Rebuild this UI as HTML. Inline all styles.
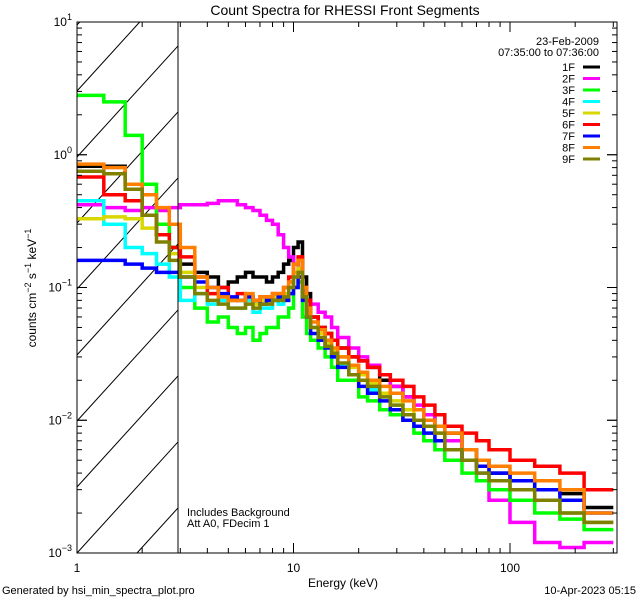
<!DOCTYPE html>
<html><head><meta charset="utf-8"><style>
html,body{margin:0;padding:0;background:#fff;overflow:hidden;width:640px;height:600px}
svg{display:block}
svg text{font-family:"Liberation Sans",sans-serif;fill:#000}
</style></head><body>
<svg id="chart" width="640" height="600" viewBox="0 0 640 600" xmlns="http://www.w3.org/2000/svg">
<defs><clipPath id="pc"><rect x="77" y="22" width="540" height="531"/></clipPath></defs>
<rect width="640" height="600" fill="#fff"/>
<text x="345" y="15" font-size="14" text-anchor="middle">Count Spectra for RHESSI Front Segments</text>
<g id="hatch" stroke="#000" stroke-width="1"></g>
<g id="series" clip-path="url(#pc)" fill="none" stroke-width="3.5"></g>
<line x1="178" y1="22" x2="178" y2="553" stroke="#000"/>
<rect x="77" y="22" width="540" height="531" fill="none" stroke="#000"/>
<g id="ticks" stroke="#000" stroke-width="1"></g>
<g id="labels"></g>
<text transform="translate(36,288) rotate(-90)" font-size="12" text-anchor="middle">counts cm<tspan dy="-5" font-size="9">−2</tspan><tspan dy="5"> s</tspan><tspan dy="-5" font-size="9">−1</tspan><tspan dy="5"> keV</tspan><tspan dy="-5" font-size="9">−1</tspan></text>
<text x="343" y="587" font-size="12" text-anchor="middle">Energy (keV)</text>
<text x="2" y="594" font-size="11">Generated by hsi_min_spectra_plot.pro</text>
<text x="636" y="594" font-size="11" text-anchor="end">10-Apr-2023 05:15</text>
<text x="187" y="516" font-size="11">Includes Background</text>
<text x="187" y="527" font-size="11">Att A0, FDecim 1</text>
<text x="599" y="45" font-size="11" text-anchor="end">23-Feb-2009</text>
<text x="599" y="56" font-size="11" text-anchor="end">07:35:00 to 07:36:00</text>
<g id="legend"></g>
</svg>
<script>
const edges=[1,1.33,1.67,2,2.33,2.67,3,3.5,4,4.5,5,5.5,6,6.5,7,7.5,8,8.5,9,9.5,10,10.5,11,11.5,12,13,14,15,16,18,20,22,25,28,32,36,40,45,50,60,70,80,100,130,170,220,300];
const names=["1F","2F","3F","4F","5F","6F","7F","8F","9F"];
const colors=["#000000","#ff00ff","#00ff00","#00ffff","#d8d800","#ff0000","#0000ff","#ff8000","#808000"];
const s1=[.82,.82,.6,.35,.25,.2,.15,.13,.12,.1,.11,.12,.13,.12,.12,.11,.12,.13,.15,.16,.2,.22,.12,.09,.06,.05,.045,.04,.035,.03,.028,.025,.02,.018,.015,.012,.011,.009,.008,.006,.005,.004,.0035,.003,.0028,.0022];
const s2=[.42,.4,.38,.4,.38,.4,.42,.42,.43,.45,.45,.42,.4,.38,.35,.32,.3,.25,.2,.17,.15,.12,.1,.08,.075,.065,.06,.05,.042,.035,.03,.026,.022,.018,.015,.013,.011,.009,.007,.005,.004,.0025,.0017,.0012,.0011,.0012];
const s3=[2.8,2.5,1.4,.6,.3,.2,.1,.07,.055,.06,.05,.045,.05,.04,.045,.05,.05,.06,.06,.07,.1,.11,.06,.045,.04,.035,.03,.025,.02,.02,.015,.014,.012,.011,.01,.008,.007,.006,.005,.004,.0035,.003,.0025,.002,.0018,.0015];
const s4=[.45,.3,.2,.18,.15,.12,.08,.09,.075,.08,.07,.07,.08,.065,.07,.07,.08,.075,.08,.09,.12,.13,.08,.06,.05,.04,.035,.03,.026,.022,.02,.017,.015,.013,.011,.009,.008,.007,.006,.005,.004,.0035,.003,.0025,.002,.0017];
const s5=[.33,.34,.33,.28,.25,.18,.13,.1,.09,.085,.08,.08,.085,.075,.08,.08,.085,.085,.09,.1,.13,.14,.09,.065,.05,.045,.038,.034,.03,.025,.022,.019,.016,.014,.012,.01,.009,.008,.006,.005,.0045,.0035,.003,.0025,.002,.0017];
const s6=[.68,.5,.45,.35,.25,.2,.17,.12,.09,.1,.08,.09,.085,.08,.085,.085,.09,.09,.1,.12,.15,.17,.1,.08,.06,.05,.045,.04,.035,.03,.028,.025,.022,.02,.018,.015,.013,.011,.009,.008,.007,.006,.005,.0045,.004,.003];
const s7=[.16,.16,.15,.14,.13,.13,.12,.11,.1,.09,.085,.08,.085,.08,.075,.08,.08,.085,.08,.09,.1,.12,.08,.06,.045,.04,.035,.03,.025,.022,.018,.016,.014,.012,.01,.009,.008,.007,.006,.005,.0045,.004,.0035,.003,.0025,.002];
const s8=[.85,.8,.6,.5,.4,.3,.2,.12,.1,.085,.08,.08,.09,.08,.085,.085,.09,.09,.1,.11,.15,.16,.1,.07,.055,.048,.04,.035,.03,.026,.023,.02,.018,.016,.014,.012,.01,.009,.008,.006,.005,.0045,.004,.0035,.003,.002];
const s9=[.75,.72,.55,.35,.22,.16,.12,.09,.08,.075,.07,.07,.075,.07,.075,.075,.08,.08,.085,.1,.12,.13,.085,.06,.05,.042,.036,.032,.027,.022,.02,.018,.015,.013,.011,.01,.009,.008,.006,.005,.004,.0035,.003,.0025,.002,.0017];
const seriesList=[s1,s2,s3,s4,s5,s6,s7,s8,s9];
const yTickLabels=["1","0","-1","-2","-3"];
const xTickLabels=["1","10","100"];

const NS="http://www.w3.org/2000/svg";
const X0=77,X1=617,Y0=22,Y1=553,DX=216.5,DY=(Y1-Y0)/4,XH=178;
const xs=e=>X0+Math.log10(e)*DX;
const ys=v=>Y0+(1-Math.log10(v))*DY;
function mk(t,a,p){const e=document.createElementNS(NS,t);for(const k in a)e.setAttribute(k,a[k]);p.appendChild(e);return e;}

// hatch lines clipped manually: y = b - s*(x-X0)
const hg=document.getElementById('hatch');const S=1.1;
for(let k=-3;k<12;k++){const b=Y1-k*66;
 let xa=X0,ya=b; if(ya>Y1){xa=X0+(b-Y1)/S;ya=Y1;}
 let xb=XH,yb=b-S*(XH-X0); if(yb<Y0){xb=X0+(b-Y0)/S;yb=Y0;}
 if(xa>=xb||xa>XH)continue;
 const l=mk('line',{x1:xa.toFixed(1),y1:ya.toFixed(1),x2:xb.toFixed(1),y2:yb.toFixed(1)},hg);
 
 }

const sg=document.getElementById('series');
seriesList.forEach((vals,i)=>{let d="";for(let j=0;j<vals.length;j++){const y=ys(vals[j]).toFixed(1);d+=(j?"L":"M")+xs(edges[j]).toFixed(1)+","+y+"L"+xs(edges[j+1]).toFixed(1)+","+y;}
const p=mk('path',{d:d,stroke:colors[i]},sg);

});

const tg=document.getElementById('ticks'),lg=document.getElementById('labels');
for(let dec=0;dec<3;dec++)for(let m=1;m<10;m++){const e=m*Math.pow(10,dec);if(e>312)break;const x=xs(e);const L=m==1?10:5;
mk('line',{x1:x,y1:Y1,x2:x,y2:Y1-L},tg);mk('line',{x1:x,y1:Y0,x2:x,y2:Y0+L},tg);}
xTickLabels.forEach((t,i)=>{const tx=mk('text',{x:xs(Math.pow(10,i)),y:572,'font-size':12,'text-anchor':'middle'},lg);tx.textContent=t;

});
for(let dec=-3;dec<1;dec++)for(let m=1;m<=10;m++){const v=m*Math.pow(10,dec);const y=ys(v);const L=(m==1||m==10)?10:5;
mk('line',{x1:X0,y1:y,x2:X0+L,y2:y},tg);mk('line',{x1:X1,y1:y,x2:X1-L,y2:y},tg);}
yTickLabels.forEach(t=>{const y=ys(Math.pow(10,+t));const tx=mk('text',{x:72,y:y+4,'font-size':12,'text-anchor':'end'},lg);
tx.innerHTML='10<tspan dy="-6" font-size="9">'+(t.startsWith('-')?'−'+t.slice(1):t)+'</tspan>';

});

const lgd=document.getElementById('legend');
names.forEach((n,i)=>{const y=67+i*11.5;const t=mk('text',{x:575,y:y+4,'font-size':11,'text-anchor':'end'},lgd);t.textContent=n;


const l=mk('line',{x1:583,y1:y,x2:600,y2:y,stroke:colors[i],'stroke-width':3},lgd);

});
</script>
</body></html>
